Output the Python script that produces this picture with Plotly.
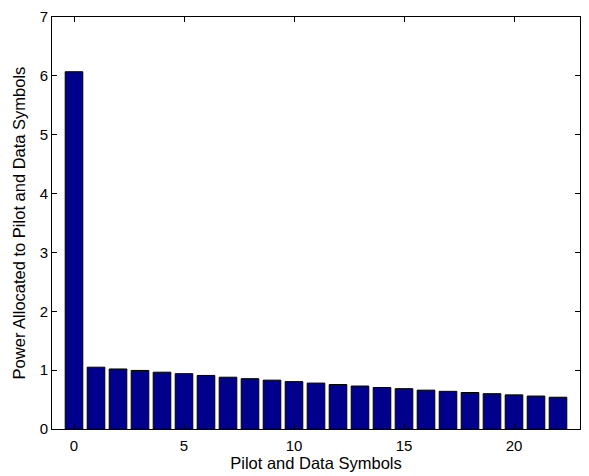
import plotly.graph_objects as go

symbols = list(range(23))
power = [6.07, 1.05, 1.02, 0.995, 0.965, 0.94, 0.91, 0.88, 0.855, 0.83, 0.805,
         0.78, 0.755, 0.73, 0.705, 0.685, 0.66, 0.64, 0.62, 0.60, 0.58, 0.56, 0.54]
x_ticks = [0, 5, 10, 15, 20]
y_ticks = [0, 1, 2, 3, 4, 5, 6, 7]

fig = go.Figure(go.Bar(
    x=symbols, y=power, width=0.8,
    marker=dict(color="rgb(0,0,140)", line=dict(color="black", width=1)),
))

font = "Liberation Sans, Arial, Helvetica, sans-serif"
fig.update_layout(
    width=589, height=476,
    margin=dict(l=52, r=8, t=11, b=45),
    plot_bgcolor="white", paper_bgcolor="white",
    font=dict(family=font, size=15, color="black"),
    showlegend=False,
    bargap=0.2,
)
fig.update_xaxes(
    range=[-1, 23], tickvals=x_ticks, ticks="inside", ticklen=5, tickcolor="black",
    showline=True, linecolor="black", linewidth=1, mirror="allticks",
    showgrid=False, zeroline=False, tickfont=dict(size=15), ticklabelstandoff=3,
    title=dict(text="Pilot and Data Symbols", font=dict(size=16.5), standoff=2),
)
fig.update_yaxes(
    range=[0, 7], tickvals=y_ticks, ticks="inside", ticklen=5, tickcolor="black",
    showline=True, linecolor="black", linewidth=1, mirror="allticks",
    showgrid=False, zeroline=False, tickfont=dict(size=15),
    title=dict(text="Power Allocated to Pilot and Data Symbols", font=dict(size=16.5), standoff=9),
)

fig.write_html("out.html")
